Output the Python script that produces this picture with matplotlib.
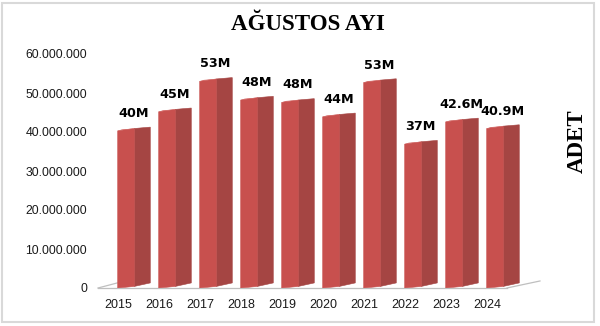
import matplotlib
matplotlib.use("Agg")
import matplotlib.pyplot as plt
from matplotlib.patches import Polygon, Rectangle

years = ["2015", "2016", "2017", "2018", "2019", "2020", "2021", "2022", "2023", "2024"]
values = [40.3e6, 45.2e6, 53.0e6, 48.2e6, 47.6e6, 43.9e6, 52.7e6, 36.9e6, 42.6e6, 40.9e6]
labels = ["40M", "45M", "53M", "48M", "48M", "44M", "53M", "37M", "42.6M", "40.9M"]
yticks = [0, 10e6, 20e6, 30e6, 40e6, 50e6, 60e6]
ytick_labels = ["0", "10.000.000", "20.000.000", "30.000.000", "40.000.000", "50.000.000", "60.000.000"]

W, H = 600, 326
fig = plt.figure(figsize=(W / 100, H / 100), dpi=100)
fig.patch.set_facecolor("white")

ax = fig.add_axes([98 / W, (H - 288) / H, 451 / W, 234 / H])
ax.set_xlim(-0.5, 10.5)
ax.set_ylim(0, 60e6)
for s in ax.spines.values():
    s.set_visible(False)
ax.set_facecolor("none")

front_c = "#C8504E"
side_c = "#A54543"
top_c = "#D0605E"

# floor
floor_c = "#BFBFBF"
ax.plot([-0.5, 9.475], [0, 0], color=floor_c, lw=0.9, clip_on=False, zorder=1)
ax.plot([-0.5, -0.03], [0, 1.3e6], color=floor_c, lw=0.9, clip_on=False, zorder=1)
ax.plot([9.475, 10.28], [0, 1.8e6], color=floor_c, lw=0.9, clip_on=False, zorder=1)

for i, v in enumerate(values):
    xl = i - 0.02
    xr = i + 0.385
    xs = i + 0.775
    side = Polygon([(xr, 0.4e6), (xs, 1.3e6), (xs, v + 0.95e6), (xr, v + 0.6e6)],
                   closed=True, facecolor=side_c, edgecolor=side_c, lw=0.4, zorder=3)
    front = Polygon([(xl, 0), (xr, 0.4e6), (xr, v + 0.6e6), (xl, v)],
                    closed=True, facecolor=front_c, edgecolor=front_c, lw=0.4, zorder=3)
    top = Polygon([(xl, v), (xr, v + 0.6e6), (xs, v + 0.95e6), (xl + 0.1, v + 0.35e6)],
                  closed=True, facecolor=top_c, edgecolor="none", zorder=3)
    ax.add_patch(side)
    ax.add_patch(front)
    ax.add_patch(top)
    ax.annotate(labels[i], xy=(i + 0.36, v), xytext=(0, 10), textcoords="offset points",
                ha="center", va="baseline", fontsize=9.2, fontweight="bold",
                family="DejaVu Sans", color="black", zorder=4)

ax.set_yticks(yticks)
ax.set_yticklabels(ytick_labels, family="Liberation Sans", fontsize=8.8, color="#1a1a1a")
ax.set_xticks(range(len(years)))
ax.set_xticklabels(years, family="Liberation Sans", fontsize=9, color="#1a1a1a")
ax.tick_params(axis="y", length=0, pad=8)
ax.tick_params(axis="x", length=0, pad=8)

fig.text(307.5 / W, (H - 30) / H, "AĞUSTOS AYI", ha="center", va="baseline",
         family="Liberation Serif", fontweight="bold", fontsize=16.6, color="black")
fig.text(577 / W, (H - 141) / H, "ADET", ha="center", va="center", rotation=90,
         family="Liberation Serif", fontweight="bold", fontsize=16.5, color="black")

fig.add_artist(Rectangle((2 / W, 4 / H), 592 / W, 319 / H, transform=fig.transFigure,
                         fill=False, edgecolor="#D9D9D9", lw=1.5))

fig.savefig("out.png", dpi=100)
